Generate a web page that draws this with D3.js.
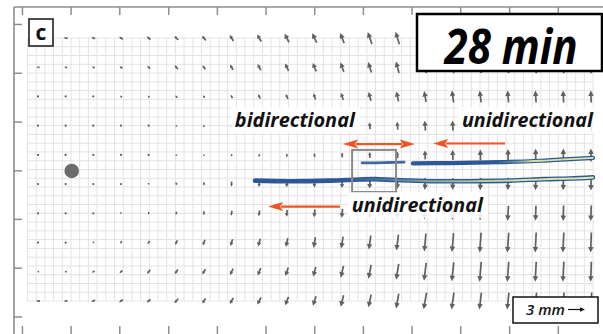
<!DOCTYPE html>
<html>
<head>
<meta charset="utf-8">
<script src="https://cdnjs.cloudflare.com/ajax/libs/d3/7.8.5/d3.min.js"></script>
<style>
  html, body { margin: 0; padding: 0; background: #fff; }
  svg { display: block; }
</style>
</head>
<body>
<svg id="chart" width="603" height="334"></svg>
<script>
// ---- Displacement field: 21 columns x 10 rows of measurement points ----
const columns = d3.range(21);           // column index, left to right
const rows = d3.range(10);              // row index, top to bottom
// vertical sense of each row: +1 upward, -1 downward
const rowDirection = [1, 1, 1, 1, 1, -1, -1, -1, -1, -1];

// displacement magnitude (mm) at each point, one array per row
const magnitude = [
  [0.53,0.71,0.71,0.79,0.88,0.97,1.06,1.24,1.41,1.68,1.85,1.94,2.21,2.29,2.29,2.29,2.29,2.29,2.29,2.29,2.29],
  [0.53,0.53,0.53,0.62,0.71,0.88,0.88,1.06,1.24,1.41,1.59,1.76,1.94,2.12,2.12,2.12,2.12,2.12,2.12,2.12,2.12],
  [0.18,0.26,0.26,0.44,0.44,0.53,0.53,0.71,0.88,0.97,1.15,1.32,1.59,1.76,1.94,2.12,2.12,2.12,2.12,2.12,2.12],
  [0.14,0.18,0.18,0.21,0.26,0.35,0.44,0.53,0.71,0.79,0.88,1.06,1.24,1.41,1.76,1.76,1.94,1.94,1.94,1.94,1.94],
  [0.11,0.11,0.12,0.14,0.26,0.35,0.35,0.44,0.53,0.62,0.71,0.88,1.06,1.15,1.59,1.76,1.94,2.12,2.21,2.29,2.29],
  [0.11,0.12,0.18,0.26,0.35,0.53,0.62,0.88,1.06,1.15,1.24,1.41,1.59,1.76,2.12,2.12,2.21,2.21,2.21,2.21,2.29],
  [0.12,0.14,0.21,0.35,0.44,0.62,0.71,0.88,1.06,1.24,1.41,1.59,1.76,1.94,2.21,2.38,2.47,2.65,2.65,2.74,2.74],
  [0.18,0.18,0.35,0.53,0.71,0.88,1.06,1.24,1.41,1.59,1.94,2.12,2.47,2.82,3.18,3.35,3.53,3.53,3.53,3.53,3.53],
  [0.35,0.44,0.53,0.71,0.88,0.97,1.06,1.24,1.41,1.59,1.76,2.12,2.47,2.82,3.18,3.35,3.53,3.53,3.53,3.53,3.53],
  [0.71,0.62,0.71,0.79,0.88,1.06,1.06,1.24,1.41,1.59,1.76,2.12,2.29,2.65,3.00,3.00,3.00,3.00,3.00,3.00,3.00]
];

// lean of each vector toward the left, degrees from vertical
const tilt = [
  [85,80,65,55,50,45,38,33,30,27,25,22,20,17,14,11,9,7,5,4,3],
  [85,75,65,55,48,42,36,32,28,25,23,20,18,15,12,10,8,6,5,4,3],
  [60,55,50,45,40,35,30,28,25,22,20,18,15,12,10,8,7,5,4,3,2],
  [10,10,10,10,10,10,8,8,8,8,8,7,6,5,4,3,3,3,2,2,2],
  [0,0,0,0,3,3,3,3,3,3,3,3,2,2,2,2,1,1,1,1,1],
  [0,0,0,3,3,3,3,3,3,3,3,3,3,3,2,2,2,2,2,2,1],
  [0,0,10,10,10,10,8,8,8,7,6,5,5,4,4,3,3,3,2,2,2],
  [40,40,40,35,30,25,20,18,15,12,10,9,8,7,5,5,4,4,3,3,2],
  [85,75,55,45,40,35,30,27,22,18,15,13,11,9,7,6,5,4,3,3,2],
  [88,80,60,55,50,40,35,30,27,22,18,14,12,10,10,8,7,6,6,5,5]
];

// frame tick positions (in column / row units)
const xTicks = [-0.58, 1.18, 2.94, 4.71, 6.47, 8.23, 9.99, 11.75, 13.51, 15.27, 17.04, 18.80];
const yTicks = [-0.48, 1.19, 2.86, 4.53, 6.19, 7.86, 9.53];

// injection site
const sourcePoint = [{ col: 1.22, row: 4.55 }];

// dye streaks: [column, row] points
const upperStreakA = [[11.72, 4.27], [12.2, 4.27], [12.7, 4.26], [13.24, 4.25]];
const upperStreakB = [[13.56, 4.29], [14.9, 4.28], [16.71, 4.25], [18.15, 4.20], [18.87, 4.16], [20.07, 4.10]];
const lowerStreak = [[7.85, 4.88], [9.11, 4.90], [10.56, 4.88], [11.64, 4.84], [12.19, 4.83], [12.91, 4.86],
                     [14.17, 4.90], [15.62, 4.90], [17.07, 4.88], [18.33, 4.83], [19.24, 4.81], [20.07, 4.77]];

// flow annotation arrows: tail -> tip, [column, row]
const flowArrows = [
  { from: [12.33, 3.63], to: [11.03, 3.63] },
  { from: [12.33, 3.63], to: [13.63, 3.63] },
  { from: [16.89, 3.61], to: [14.29, 3.61] },
  { from: [10.92, 5.77], to: [8.32, 5.77] }
];
const flowLabels = [
  { text: "bidirectional", col: 9.29, row: 3.05 },
  { text: "unidirectional", col: 17.70, row: 3.05 },
  { text: "unidirectional", col: 13.72, row: 5.96 }
];
const zoomBox = { col0: 11.36, col1: 12.95, row0: 3.83, row1: 5.27 };

const panelLetter = "c";
const timeLabel = "28 min";
const scaleBarMM = 3;

// ---- scales ----
const svg = d3.select("#chart");
const x = d3.scaleLinear().domain([0, 20]).range([38, 591]);
const y = d3.scaleLinear().domain([0, 9]).range([38, 301]);
const len = d3.scaleLinear().domain([0, 3]).range([0, 17]);   // mm -> px

// ---- fine background grid ----
const grid = svg.append("g").attr("stroke", "#e6e2e2").attr("stroke-width", 1);
const gx = d3.range(66).map(i => -0.38 + i * 0.3147);
const gy = d3.range(31).map(i => i * 0.3);
grid.selectAll("line.v").data(gx).join("line").attr("class", "v")
  .attr("x1", d => x(d)).attr("x2", d => x(d))
  .attr("y1", y(0)).attr("y2", y(9));
grid.selectAll("line.h").data(gy).join("line").attr("class", "h")
  .attr("x1", x(-0.38)).attr("x2", x(-0.38 + 65 * 0.3147))
  .attr("y1", d => y(d)).attr("y2", d => y(d));

// ---- frame with ticks ----
const frameColor = "#8e8e8e";
const topAxis = svg.append("g").attr("transform", "translate(0,7)")
  .call(d3.axisBottom(x).tickValues(xTicks).tickSize(8).tickSizeOuter(0).tickFormat(""));
const bottomAxis = svg.append("g").attr("transform", "translate(0,334)")
  .call(d3.axisTop(x).tickValues(xTicks).tickSize(8).tickSizeOuter(0).tickFormat(""));
const leftAxis = svg.append("g").attr("transform", "translate(14,0)")
  .call(d3.axisRight(y).tickValues(yTicks).tickSize(8).tickSizeOuter(0).tickFormat(""));
[topAxis, bottomAxis, leftAxis].forEach(g => {
  g.select(".domain").remove();
  g.selectAll("line").attr("stroke", frameColor).attr("stroke-width", 1.5);
});
svg.append("line").attr("x1", 14).attr("x2", 603).attr("y1", 7).attr("y2", 7)
  .attr("stroke", frameColor).attr("stroke-width", 1.6);
svg.append("line").attr("x1", 14).attr("x2", 14).attr("y1", 7).attr("y2", 334)
  .attr("stroke", frameColor).attr("stroke-width", 1.6);

// ---- quiver arrows ----
const vectors = [];
rows.forEach(r => columns.forEach(c => {
  const m = magnitude[r][c], a = tilt[r][c] * Math.PI / 180;
  vectors.push({ col: c, row: r, u: -m * Math.sin(a), v: rowDirection[r] * m * Math.cos(a) });
}));

function quiverPath(d) {
  const cx = x(d.col), cy = y(d.row);
  const dx = len(d.u), dy = -len(d.v);
  const L = Math.hypot(dx, dy);
  const ux = dx / L, uy = dy / L, px = -uy, py = ux;
  const tx = cx - dx / 2, ty = cy - dy / 2, hx = cx + dx / 2, hy = cy + dy / 2;
  const hl = Math.min(5.5, L * 0.5), hw = Math.min(2.7, hl * 0.55), sw = 0.85;
  const bx = hx - ux * hl, by = hy - uy * hl;
  const pts = [
    [tx + px * sw, ty + py * sw], [bx + px * sw, by + py * sw], [bx + px * hw, by + py * hw],
    [hx, hy], [bx - px * hw, by - py * hw], [bx - px * sw, by - py * sw], [tx - px * sw, ty - py * sw]
  ];
  return "M" + pts.map(p => p[0].toFixed(2) + "," + p[1].toFixed(2)).join("L") + "Z";
}
const quiver = svg.append("g").attr("fill", "#606060");
quiver.selectAll("path").data(vectors.filter(d => len(Math.hypot(d.u, d.v)) >= 1.6)).join("path")
  .attr("d", quiverPath);
quiver.selectAll("circle").data(vectors.filter(d => len(Math.hypot(d.u, d.v)) < 1.6)).join("circle")
  .attr("cx", d => x(d.col)).attr("cy", d => y(d.row)).attr("r", 1.1);

// injection site marker
svg.selectAll("circle.src").data(sourcePoint).join("circle").attr("class", "src")
  .attr("cx", d => x(d.col)).attr("cy", d => y(d.row)).attr("r", 7.3).attr("fill", "#6b6b6b");

// ---- dye streaks ----
const streakLine = d3.line().x(d => x(d[0])).y(d => y(d[1])).curve(d3.curveCatmullRom);
const streaks = svg.append("g").attr("fill", "none").attr("stroke-linecap", "round");
streaks.append("path").datum(upperStreakA).attr("d", streakLine)
  .attr("stroke", "#2c5a98").attr("stroke-width", 2.8).attr("opacity", 0.9);
[upperStreakB, lowerStreak].forEach((pts, i) => {
  streaks.append("path").datum(pts).attr("d", streakLine)
    .attr("stroke", "#2b5897").attr("stroke-width", i === 0 ? 4.2 : 4.6);
});
// pale yellow-green core toward the downstream end
const defs = svg.append("defs");
const coreGrad = defs.append("linearGradient").attr("id", "core")
  .attr("gradientUnits", "userSpaceOnUse").attr("x1", x(11)).attr("x2", x(20)).attr("y1", 0).attr("y2", 0);
coreGrad.append("stop").attr("offset", 0).attr("stop-color", "#7fa290").attr("stop-opacity", 0);
coreGrad.append("stop").attr("offset", 0.35).attr("stop-color", "#9fba92").attr("stop-opacity", 0.8);
coreGrad.append("stop").attr("offset", 0.7).attr("stop-color", "#d6e29e").attr("stop-opacity", 1);
coreGrad.append("stop").attr("offset", 1).attr("stop-color", "#e2eaad").attr("stop-opacity", 1);
streaks.append("path").datum(lowerStreak).attr("d", streakLine)
  .attr("stroke", "url(#core)").attr("stroke-width", 2);
const upperCore = defs.append("linearGradient").attr("id", "core2")
  .attr("gradientUnits", "userSpaceOnUse").attr("x1", x(16.5)).attr("x2", x(20)).attr("y1", 0).attr("y2", 0);
upperCore.append("stop").attr("offset", 0).attr("stop-color", "#8fb096").attr("stop-opacity", 0);
upperCore.append("stop").attr("offset", 0.4).attr("stop-color", "#d2df9c").attr("stop-opacity", 1);
upperCore.append("stop").attr("offset", 1).attr("stop-color", "#e2eaad").attr("stop-opacity", 1);
streaks.append("path").datum(upperStreakB).attr("d", streakLine)
  .attr("stroke", "url(#core2)").attr("stroke-width", 1.8);

// ---- zoom box ----
svg.append("rect")
  .attr("x", x(zoomBox.col0)).attr("y", y(zoomBox.row0))
  .attr("width", x(zoomBox.col1) - x(zoomBox.col0)).attr("height", y(zoomBox.row1) - y(zoomBox.row0))
  .attr("fill", "none").attr("stroke", "#8a8a8a").attr("stroke-width", 2);

// ---- flow arrows ----
const orange = "#ef5326";
function flowArrow(g, d) {
  const x0 = x(d.from[0]), y0 = y(d.from[1]), x1 = x(d.to[0]), y1 = y(d.to[1]);
  const L = Math.hypot(x1 - x0, y1 - y0), ux = (x1 - x0) / L, uy = (y1 - y0) / L;
  const hl = 15, hw = 4.5;
  const bx = x1 - ux * hl, by = y1 - uy * hl;
  g.append("line").attr("x1", x0).attr("y1", y0).attr("x2", bx + ux * 2).attr("y2", by + uy * 2)
    .attr("stroke", orange).attr("stroke-width", 2.2);
  g.append("path").attr("fill", orange)
    .attr("d", `M${x1},${y1}L${bx - uy * hw},${by + ux * hw}L${bx + ux * 3},${by + uy * 3}L${bx + uy * hw},${by - ux * hw}Z`);
}
const flows = svg.append("g");
flowArrows.forEach(d => flowArrow(flows, d));

// ---- labels with white backing ----
const labelFont = "'Open Sans', 'DejaVu Sans', sans-serif";
flowLabels.forEach(d => {
  const g = svg.append("g");
  const bg = g.append("rect").attr("fill", "#fff").attr("opacity", 0.88);
  const t = g.append("text").attr("x", x(d.col)).attr("y", y(d.row))
    .attr("text-anchor", "middle").attr("font-family", labelFont)
    .attr("font-weight", 700).attr("font-style", "italic").attr("font-size", 20)
    .attr("textLength", d.text === "bidirectional" ? 120 : 131).attr("lengthAdjust", "spacingAndGlyphs")
    .attr("fill", "#111").text(d.text);
  const b = t.node().getBBox();
  bg.attr("x", b.x - 4).attr("y", b.y + 1).attr("width", b.width + 8).attr("height", b.height - 1);
});

// ---- panel letter ----
svg.append("rect").attr("x", 29).attr("y", 19).attr("width", 24).attr("height", 27)
  .attr("fill", "#fff").attr("stroke", "#222").attr("stroke-width", 1.6);
svg.append("text").attr("x", 41).attr("y", 39.5).attr("text-anchor", "middle")
  .attr("font-family", labelFont).attr("font-weight", 700).attr("font-size", 21)
  .attr("fill", "#111").text(panelLetter);

// ---- time stamp ----
svg.append("rect").attr("x", 417).attr("y", 14).attr("width", 185).attr("height", 57)
  .attr("fill", "#fff").attr("stroke", "#000").attr("stroke-width", 2.5);
svg.append("text").attr("x", 511).attr("y", 64).attr("text-anchor", "middle")
  .attr("font-family", labelFont).attr("font-weight", 700).attr("font-style", "italic")
  .attr("font-size", 48).attr("textLength", 133).attr("lengthAdjust", "spacingAndGlyphs")
  .attr("fill", "#000").text(timeLabel);

// ---- displacement scale ----
svg.append("rect").attr("x", 513).attr("y", 297).attr("width", 85).attr("height", 26)
  .attr("fill", "#fff").attr("stroke", "#111").attr("stroke-width", 1.5);
svg.append("text").attr("x", 526).attr("y", 314.5)
  .attr("font-family", labelFont).attr("font-style", "italic").attr("font-weight", 600)
  .attr("font-size", 15).attr("fill", "#111").text(scaleBarMM + " mm");
const sbx = 568, sby = 309.5, sbl = len(scaleBarMM);
svg.append("line").attr("x1", sbx).attr("x2", sbx + sbl - 3).attr("y1", sby).attr("y2", sby)
  .attr("stroke", "#111").attr("stroke-width", 1.2);
svg.append("path").attr("fill", "#111")
  .attr("d", `M${sbx + sbl},${sby}L${sbx + sbl - 5},${sby - 2.3}L${sbx + sbl - 5},${sby + 2.3}Z`);
</script>
</body>
</html>
